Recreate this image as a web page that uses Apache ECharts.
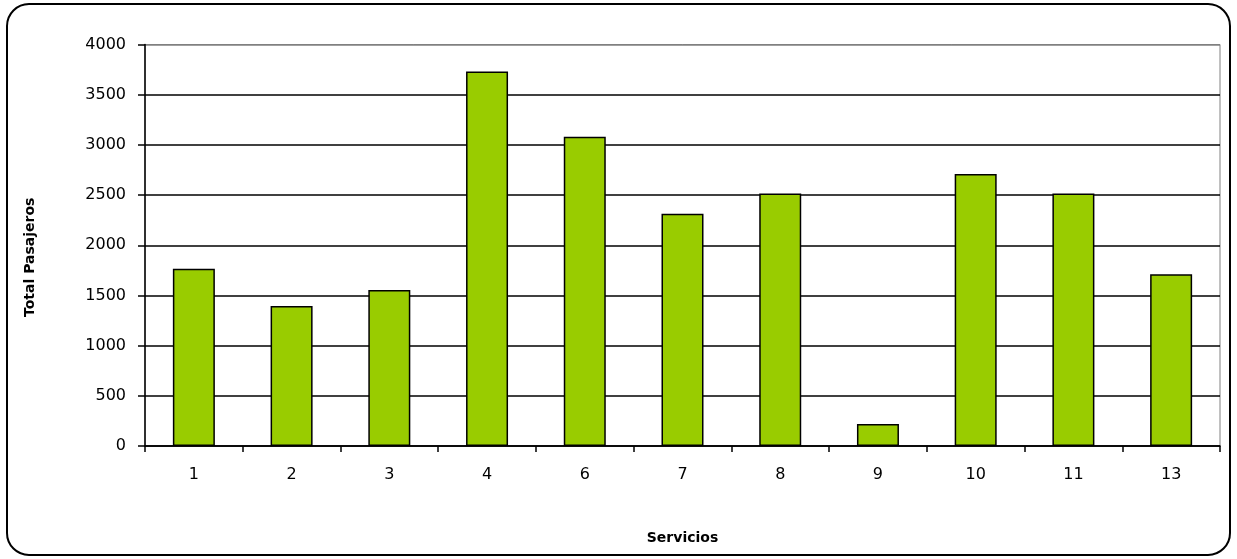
<!DOCTYPE html>
<html>
<head>
<meta charset="utf-8">
<script src="https://cdn.jsdelivr.net/npm/echarts@6/dist/echarts.min.js"></script>
<style>
html,body{margin:0;padding:0;background:#fff;}
#c{width:1237px;height:559px;}
</style>
</head>
<body>
<div id="c"></div>
<script>
var categories = ['1','2','3','4','6','7','8','9','10','11','13'];
var values = [1765, 1395, 1555, 3730, 3080, 2315, 2515, 220, 2710, 2515, 1710];
var yTicks = [0, 500, 1000, 1500, 2000, 2500, 3000, 3500, 4000];

var chart = echarts.init(document.getElementById('c'), null, {renderer: 'canvas'});
var splitColors = yTicks.map(function (v, i) { return i === yTicks.length - 1 ? '#808080' : '#000000'; });
chart.setOption({
  animation: false,
  backgroundColor: '#ffffff',
  graphic: [{
    type: 'rect',
    shape: {x: 7, y: 4, width: 1223, height: 551, r: 22},
    style: {fill: 'none', stroke: '#000', lineWidth: 2},
    silent: true,
    z: 0
  }],
  grid: {left: 145, right: 17, top: 44.5, bottom: 113, show: true, borderColor: '#808080', borderWidth: 1, backgroundColor: 'transparent'},
  xAxis: {
    type: 'category',
    data: categories,
    name: 'Servicios',
    nameLocation: 'middle',
    nameGap: 85,
    nameTextStyle: {fontFamily: 'DejaVu Sans', fontWeight: 'bold', fontSize: 14, color: '#000'},
    axisLine: {show: true, lineStyle: {color: '#000', width: 1.5}},
    axisTick: {show: true, length: 6, alignWithLabel: false, lineStyle: {color: '#000', width: 1.5}},
    axisLabel: {margin: 21, fontFamily: 'DejaVu Sans', fontSize: 16, color: '#000'},
    splitLine: {show: false}
  },
  yAxis: {
    type: 'value',
    min: yTicks[0],
    max: yTicks[yTicks.length - 1],
    interval: 500,
    name: 'Total Pasajeros',
    nameLocation: 'middle',
    nameGap: 108,
    nameTextStyle: {fontFamily: 'DejaVu Sans', fontWeight: 'bold', fontSize: 14, color: '#000', padding: [0, 24, 0, 0]},
    axisLine: {show: true, lineStyle: {color: '#000', width: 1.5}},
    axisTick: {show: true, length: 7, lineStyle: {color: '#000', width: 1.5}},
    axisLabel: {margin: 19, fontFamily: 'DejaVu Sans', fontSize: 16, color: '#000', formatter: function (v) { return String(v); }},
    splitLine: {show: true, lineStyle: {color: splitColors, width: 1.5}}
  },
  series: [{
    type: 'bar',
    data: values,
    barWidth: 42,
    itemStyle: {color: '#99CC00', borderColor: '#000', borderWidth: 1.5}
  }]
});
</script>
</body>
</html>
